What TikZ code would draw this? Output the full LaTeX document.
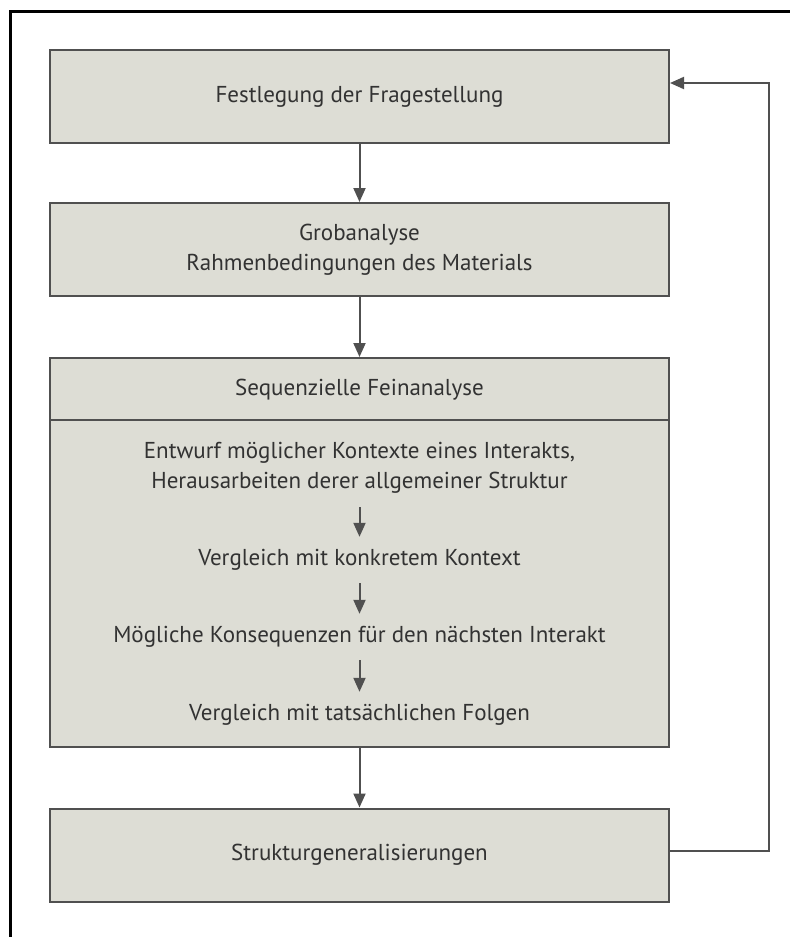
\documentclass[tikz,border=0pt]{standalone}
\usepackage{fontspec}
\setmainfont{PT Sans}
\usetikzlibrary{arrows.meta}
\definecolor{kasten}{RGB}{221,221,213}
\definecolor{rand}{RGB}{80,80,80}
\definecolor{schrift}{RGB}{50,50,50}
\tikzset{
  schritt/.style = {rectangle, draw=rand, fill=kasten, line width=2pt,
    minimum width=619pt, minimum height=93pt, align=center, text=schrift,
    font=\fontsize{23}{30}\selectfont},% Kasten eines Schritts
  teil/.style = {align=center, inner sep=0pt, text=schrift,
    minimum height=46pt, font=\fontsize{23}{30}\selectfont},% Zeile der Feinanalyse
  pfeil/.style = {-{Triangle[length=14pt,width=12pt]}, draw=rand,
    line width=2pt}
}
\begin{document}
\begin{tikzpicture}[x=1pt,y=-1pt]
  \useasboundingbox (0,0) rectangle (790,937);
  \draw[line width=3pt] (10,937) -- (10,11) -- (790,11);

  \node [schritt] (festlegung) at (359.5,96.5) {Festlegung der Fragestellung};
  \node [schritt] (grob) at (359.5,249.5) {Grobanalyse\\Rahmenbedingungen des Materials};
  \node [schritt, minimum height=389pt] (fein) at (359.5,552.5) {};
  \node [schritt] (struktur) at (359.5,855) {Strukturgeneralisierungen};

  \node [teil] (kopf) at (359.5,390) {Sequenzielle Feinanalyse};
  \draw [draw=rand, line width=2pt] (fein.north west) ++(0,63) -- ++(619,0);

  \node [teil, minimum height=78pt] (entwurf) at (359.5,468)
    {Entwurf möglicher Kontexte eines Interakts,\\Herausarbeiten derer allgemeiner Struktur};
  \node [teil] (vergleich) at (359.5,560) {Vergleich mit konkretem Kontext};
  \node [teil] (konsequenz) at (359.5,637) {Mögliche Konsequenzen für den nächsten Interakt};
  \node [teil] (folgen) at (359.5,715) {Vergleich mit tatsächlichen Folgen};

  \foreach \from/\to in {festlegung/grob,grob/fein,fein/struktur,
    entwurf/vergleich,vergleich/konsequenz,konsequenz/folgen}
    \draw [pfeil] (\from) -- (\to);

  \draw [pfeil] ([yshift=4pt]struktur.east) -- ++(99,0) |- ([yshift=13.5pt]festlegung.east);
\end{tikzpicture}
\end{document}
